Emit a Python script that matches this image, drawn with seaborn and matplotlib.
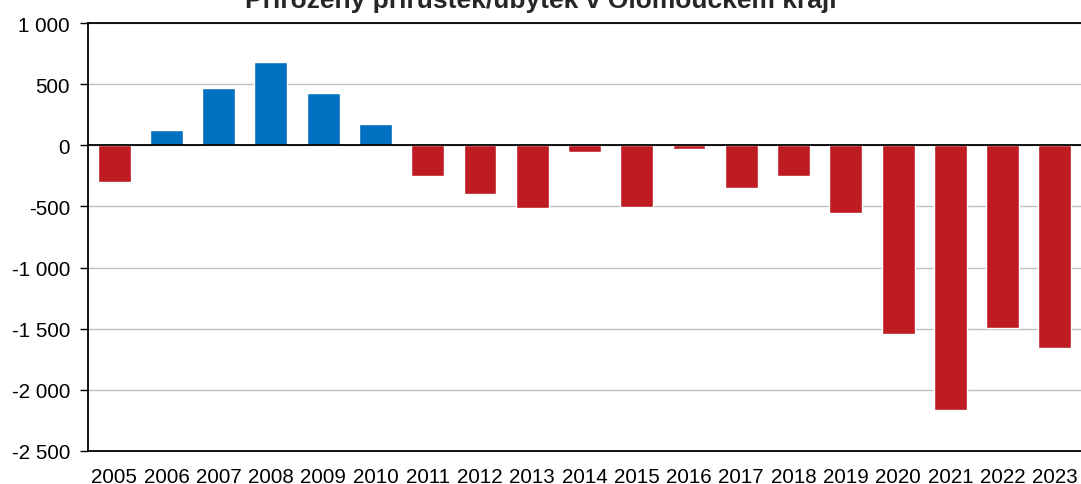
import numpy as np
import pandas as pd
import matplotlib
matplotlib.use("Agg")
import matplotlib.pyplot as plt
import seaborn as sns
from matplotlib.ticker import FuncFormatter

years = [str(y) for y in range(2005, 2024)]
values = [-297, 123, 466, 679, 425, 172, -253, -400, -515, -57,
          -507, -33, -352, -253, -556, -1540, -2164, -1496, -1657]

df = pd.DataFrame({"rok": years, "hodnota": values})
df["znak"] = np.where(df["hodnota"] >= 0, "kladny", "zaporny")

sns.set_style("white")
plt.rcParams['font.family'] = ['Liberation Sans', 'DejaVu Sans']

fig = plt.figure(figsize=(10.81, 4.85), dpi=100)
ax = fig.add_axes([88/1081, 33/485, 1 - 88/1081, 428/485])

sns.barplot(data=df, x="rok", y="hodnota", hue="znak",
            palette={"kladny": "#0070C0", "zaporny": "#BE1B23"},
            width=0.63, dodge=False, legend=False, saturation=1, ax=ax)

ax.set_ylim(-2500, 1000)
ax.set_yticks(range(-2500, 1001, 500))
ax.yaxis.set_major_formatter(FuncFormatter(lambda v, p: f"{int(v):,}".replace(",", " ")))
ax.set_xlim(-0.5, len(years) - 0.5)
ax.set_xlabel("")
ax.set_ylabel("")

ax.yaxis.grid(True, color="#c0c0c0", linewidth=1)
ax.set_axisbelow(True)
ax.axhline(0, color="black", linewidth=1.3)

for s in ["left", "bottom", "top"]:
    ax.spines[s].set_color("black")
    ax.spines[s].set_linewidth(1.3)
ax.spines["right"].set_visible(False)

ax.tick_params(axis="y", left=True, length=6, width=1, color="black",
               labelsize=14.8, pad=7, labelcolor="black")
ax.tick_params(axis="x", bottom=False, labelsize=14.8, pad=8, labelcolor="black")

# title is clipped at the top edge as in the original
fig.text(0.5, 1 - 8/485, "Přirozený přírůstek/úbytek v Olomouckém kraji",
         ha="center", va="baseline", fontsize=19, fontweight="bold")

fig.savefig("out.png", dpi=100)
